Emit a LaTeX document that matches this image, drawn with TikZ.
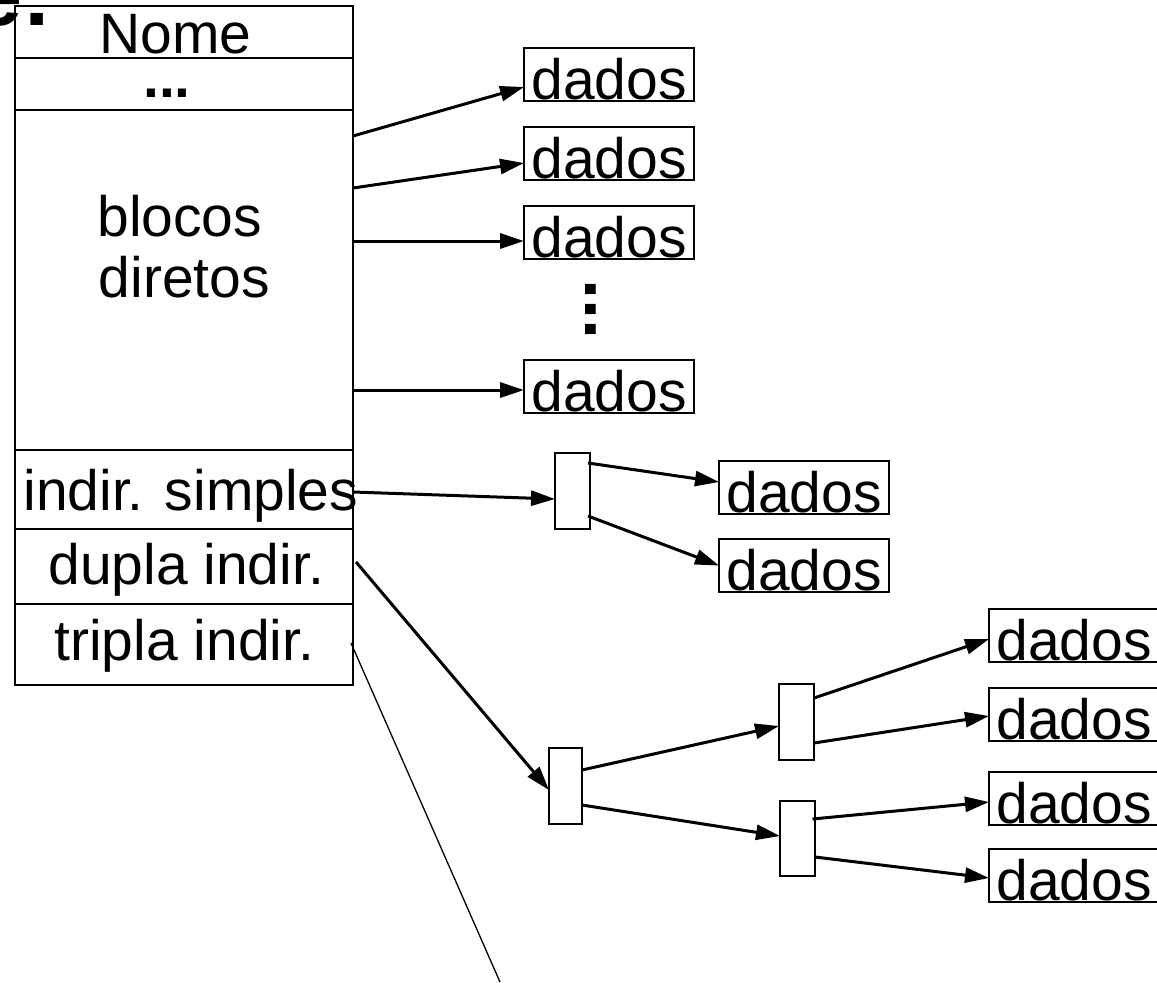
\documentclass[tikz,border=0pt]{standalone}
\usepackage{fontspec}
\setmainfont{Liberation Sans}
\usetikzlibrary{arrows.meta,calc}

\begin{document}
\begin{tikzpicture}[
  x=0.5pt, y=-0.5pt,
  every node/.style={font=\fontsize{28.5}{34}\selectfont},
  cell/.style={draw, line width=0.8pt, minimum width=169pt, inner sep=0pt,
               outer sep=0pt, anchor=north west},
  label/.style={inner sep=0pt, anchor=base west},
  dadosbox/.style={draw, line width=0.8pt, minimum width=85pt, inner xsep=0pt,
               inner ysep=0pt, text height=25.5pt, text depth=1pt,
               outer sep=0pt, anchor=north west},
  ptr/.style={draw, line width=0.8pt, inner sep=0pt, outer sep=0pt,
              minimum width=17.5pt, minimum height=38pt, anchor=north west},
  link/.style={line width=1.5pt, -{Triangle[length=12pt,width=7.5pt]}},
  dotsstyle/.style={inner sep=0pt, font=\fontsize{28.5}{34}\selectfont\bfseries}
]
\useasboundingbox (0,0) rectangle (1157,982);

% heading, partly outside the page
\node[inner sep=0pt, anchor=base east, font=\fontsize{44}{50}\selectfont\bfseries]
  (head) at (52,25) {e:};

% the i-node table
\node[cell, minimum height=26pt]   (rNome)   at (15,6)   {};
\node[cell, minimum height=26pt]   (rDots)   at (15,58)  {};
\node[cell, minimum height=170pt]  (rDir)    at (15,110) {};
\node[cell, minimum height=39.5pt] (rSimp)   at (15,450) {};
\node[cell, minimum height=37.5pt] (rDupla)  at (15,529) {};
\node[cell, minimum height=40.5pt] (rTripla) at (15,604) {};

\node[label] (tNome)    at (99,53.5)  {Nome};
\node[dotsstyle] (tDots) at (167,93.5) {...};
\node[label] (tBlocos)  at (97,236.7) {blocos};
\node[label] (tDiretos) at (98.5,297) {diretos};
\node[label] (tSimp)    at (23,510.5) {indir. simples};
\node[label] (tDupla)   at (48,584)   {dupla indir.};
\node[label] (tTripla)  at (54,660.5) {tripla indir.};

% direct data blocks
\node[dadosbox] (d1) at (524,48)  {dados};
\node[dadosbox] (d2) at (524,127) {dados};
\node[dadosbox] (d3) at (524,206) {dados};
\node[dadosbox] (d4) at (524,360) {dados};
\node[dotsstyle, rotate=-90, font=\fontsize{36}{40}\selectfont\bfseries]
  (vdots) at (590.5,309.5) {...};

\draw[link] ($(rDir.north east)+(0,26)$) -- ($(d1.west)+(0,12.5)$);
\draw[link] ($(rDir.north east)+(0,78)$) -- ($(d2.west)+(0,9.5)$);
\coordinate (a3) at ($(d3.west)+(0,8.5)$);
\coordinate (a4) at ($(d4.west)+(0,3.5)$);
\draw[link] (rDir.east |- a3) -- (a3);
\draw[link] (rDir.east |- a4) -- (a4);

% single indirection
\node[ptr] (I1) at (555,453) {};
\node[dadosbox] (dA) at (719,461) {dados};
\node[dadosbox] (dB) at (719,539) {dados};
\draw[link] ($(rSimp.east)+(0,2.5)$) -- ($(I1.west)+(0,8)$);
\draw[link] ($(I1.north east)+(-2,10)$) -- ($(dA.west)+(0,-5.5)$);
\draw[link] ($(I1.north east)+(-2,63)$) -- (dB.west);

% double indirection
\node[ptr, minimum width=16.5pt] (S1) at (549,748) {};
\node[ptr] (S2) at (779,684) {};
\node[ptr, minimum height=37.5pt] (S3) at (780,801) {};
\node[dadosbox] (R1) at (989,609) {dados};
\node[dadosbox] (R2) at (989,688) {dados};
\node[dadosbox] (R3) at (989,772) {dados};
\node[dadosbox] (R4) at (989,849) {dados};

\draw[link] ($(rDupla.east)+(3,-4.5)$) -- ($(S1.west)+(0,4)$);
\draw[link] ($(S1.north east)+(0,22)$) -- ($(S2.west)+(0,4)$);
\draw[link] ($(S1.north east)+(0,57)$) -- ($(S3.west)+(0,-2.5)$);
\draw[link] ($(S2.north east)+(0,14)$) -- ($(R1.west)+(0,3.5)$);
\draw[link] ($(S2.north east)+(0,59)$) -- ($(R2.west)+(0,1.5)$);
\draw[link] ($(S3.north east)+(-2.5,18)$) -- ($(R3.west)+(0,3.5)$);
\draw[link] ($(S3.north east)+(0,56)$) -- ($(R4.west)+(0,2.5)$);

% triple indirection, leaving the page
\coordinate (tripEnd) at (500,982);
\draw[line width=0.65pt] ($(rTripla.north east)+(-2,39)$) -- (tripEnd);
\end{tikzpicture}
\end{document}
